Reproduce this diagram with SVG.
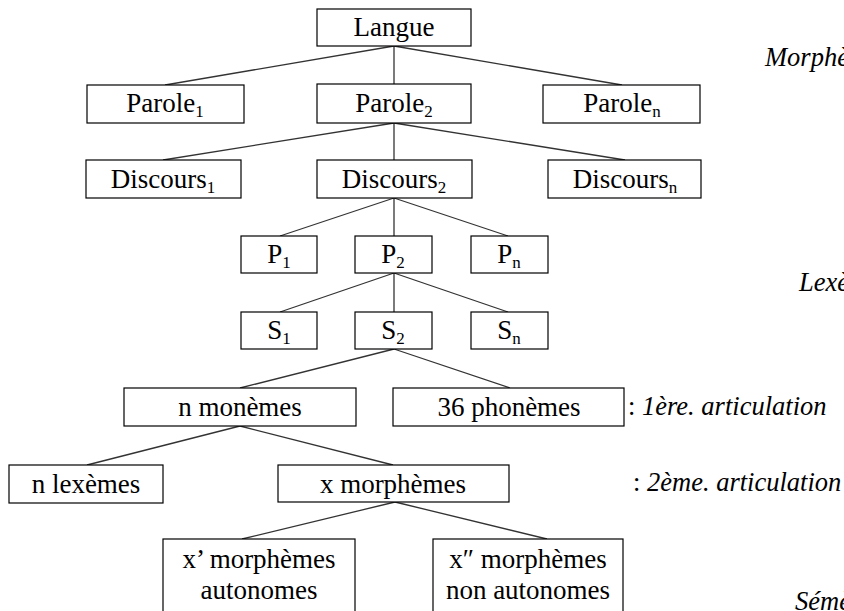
<svg xmlns="http://www.w3.org/2000/svg" width="844" height="611" viewBox="0 0 844 611">
<defs>
<rect id="unused-none" width="0" height="0"/>
</defs>
<rect width="844" height="611" fill="#fff"/>
<g id="connectors" stroke="#333" stroke-width="1.3">
<line x1="394" y1="46" x2="165" y2="85"/>
<line x1="394" y1="46" x2="394" y2="84"/>
<line x1="394" y1="46" x2="622" y2="85"/>
<line x1="394" y1="123" x2="163" y2="160"/>
<line x1="394" y1="123" x2="394" y2="160"/>
<line x1="394" y1="123" x2="625" y2="160"/>
<line x1="394" y1="198" x2="280" y2="236"/>
<line x1="394" y1="198" x2="394" y2="236"/>
<line x1="394" y1="198" x2="508" y2="236"/>
<line x1="394" y1="273" x2="280" y2="312"/>
<line x1="394" y1="273" x2="394" y2="312"/>
<line x1="394" y1="273" x2="508" y2="312"/>
<line x1="394" y1="349" x2="240" y2="388"/>
<line x1="394" y1="349" x2="510" y2="388"/>
<line x1="240" y1="426" x2="87" y2="465"/>
<line x1="240" y1="426" x2="393" y2="465"/>
<line x1="395" y1="502" x2="242" y2="539"/>
<line x1="395" y1="502" x2="547" y2="539"/>
</g>
<g fill="#fff" stroke="#000" stroke-width="1.2">
<rect id="langue-box" x="317" y="9" width="154" height="37"/>
<rect id="parole1-box" x="87" y="85" width="157" height="38"/>
<rect id="parole2-box" x="317" y="84" width="154" height="39"/>
<rect id="parolen-box" x="543" y="85" width="157" height="38"/>
<rect id="discours1-box" x="86" y="160" width="155" height="38"/>
<rect id="discours2-box" x="317" y="160" width="155" height="38"/>
<rect id="discoursn-box" x="548" y="160" width="153" height="38"/>
<rect id="p1-box" x="241" y="236" width="76" height="37"/>
<rect id="p2-box" x="355" y="236" width="77" height="37"/>
<rect id="pn-box" x="471" y="236" width="77" height="37"/>
<rect id="s1-box" x="241" y="312" width="76" height="37"/>
<rect id="s2-box" x="355" y="312" width="77" height="37"/>
<rect id="sn-box" x="471" y="312" width="77" height="37"/>
<rect id="monemes-box" x="124" y="388" width="232" height="38"/>
<rect id="phonemes-box" x="393" y="388" width="231" height="38"/>
<rect id="lexemes-box" x="9" y="465" width="154" height="38"/>
<rect id="xmorphemes-box" x="278" y="465" width="231" height="37"/>
<rect id="xprime-box" x="163" y="539" width="192" height="80"/>
<rect id="xsecond-box" x="433" y="539" width="190" height="80"/>
</g>
<text font-family="Liberation Serif" font-size="27" x="394" y="36" text-anchor="middle">Langue</text>
<text font-family="Liberation Serif" font-size="27" x="165" y="112" text-anchor="middle">Parole<tspan font-size="17" dy="5">1</tspan></text>
<text font-family="Liberation Serif" font-size="27" x="394" y="112" text-anchor="middle">Parole<tspan font-size="17" dy="5">2</tspan></text>
<text font-family="Liberation Serif" font-size="27" x="622" y="112" text-anchor="middle">Parole<tspan font-size="17" dy="5">n</tspan></text>
<text font-family="Liberation Serif" font-size="27" x="163" y="188" text-anchor="middle">Discours<tspan font-size="17" dy="5">1</tspan></text>
<text font-family="Liberation Serif" font-size="27" x="394" y="188" text-anchor="middle">Discours<tspan font-size="17" dy="5">2</tspan></text>
<text font-family="Liberation Serif" font-size="27" x="625" y="188" text-anchor="middle">Discours<tspan font-size="17" dy="5">n</tspan></text>
<text font-family="Liberation Serif" font-size="27" x="279" y="263" text-anchor="middle">P<tspan font-size="17" dy="5">1</tspan></text>
<text font-family="Liberation Serif" font-size="27" x="393" y="263" text-anchor="middle">P<tspan font-size="17" dy="5">2</tspan></text>
<text font-family="Liberation Serif" font-size="27" x="509" y="263" text-anchor="middle">P<tspan font-size="17" dy="5">n</tspan></text>
<text font-family="Liberation Serif" font-size="27" x="279" y="339" text-anchor="middle">S<tspan font-size="17" dy="5">1</tspan></text>
<text font-family="Liberation Serif" font-size="27" x="393" y="339" text-anchor="middle">S<tspan font-size="17" dy="5">2</tspan></text>
<text font-family="Liberation Serif" font-size="27" x="509" y="339" text-anchor="middle">S<tspan font-size="17" dy="5">n</tspan></text>
<text font-family="Liberation Serif" font-size="27" x="240" y="416" text-anchor="middle">n monèmes</text>
<text font-family="Liberation Serif" font-size="27" x="509" y="416" text-anchor="middle">36 phonèmes</text>
<text font-family="Liberation Serif" font-size="27" x="86" y="493" text-anchor="middle">n lexèmes</text>
<text font-family="Liberation Serif" font-size="27" x="393" y="493" text-anchor="middle">x morphèmes</text>
<text font-family="Liberation Serif" font-size="27" x="259" y="568" text-anchor="middle">x’ morphèmes</text>
<text font-family="Liberation Serif" font-size="27" x="259" y="599" text-anchor="middle">autonomes</text>
<text font-family="Liberation Serif" font-size="27" x="528" y="568" text-anchor="middle">x″ morphèmes</text>
<text font-family="Liberation Serif" font-size="27" x="528" y="599" text-anchor="middle">non autonomes</text>
<text font-family="Liberation Serif" font-size="26.5" x="628" y="415">: <tspan font-style="italic">1ère. articulation</tspan></text>
<text font-family="Liberation Serif" font-size="26.5" x="633" y="491">: <tspan font-style="italic">2ème. articulation</tspan></text>
<text font-family="Liberation Serif" font-size="26.5" font-style="italic" x="765" y="66">Morphèmes</text>
<text font-family="Liberation Serif" font-size="26.5" font-style="italic" x="799" y="291">Lexèmes</text>
<text font-family="Liberation Serif" font-size="26.5" font-style="italic" x="795" y="610">Sémèmes</text>
</svg>
